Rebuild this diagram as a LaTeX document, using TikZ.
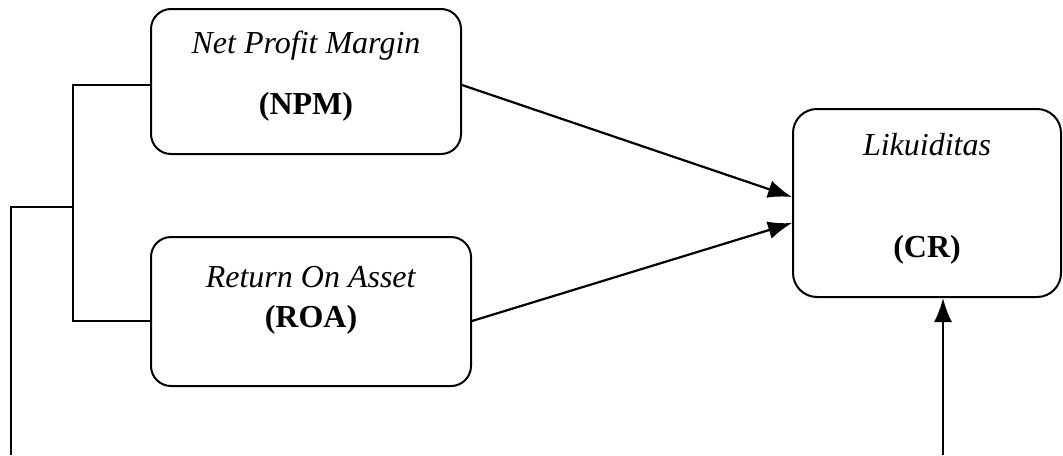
\documentclass[tikz,border=0pt]{standalone}
\usepackage{fontspec}
\setmainfont{Liberation Serif}
\usetikzlibrary{arrows.meta,calc}

\begin{document}
\begin{tikzpicture}[x=0.5pt, y=-0.5pt,
  varbox/.style={draw, line width=1pt, rounded corners=10pt, align=center, inner sep=0pt, font=\fontsize{16}{19.2}\selectfont},
  link/.style={line width=1.1pt, -{Latex[length=12pt,width=9pt]}}]
  \useasboundingbox (0,0) rectangle (1063,455);

  % Define boxes
  \node[varbox, minimum width=155pt, minimum height=72.5pt] (npm) at (306,81.5) {\textit{Net Profit Margin}\\[11.3pt]\textbf{(NPM)}\rule[-9pt]{0pt}{9pt}};
  \node[varbox, minimum width=160pt, minimum height=74.5pt] (roa) at (311,311.5) {\textit{Return On Asset}\\[0.8pt]\textbf{(ROA)}\rule[-15pt]{0pt}{15pt}};
  \node[varbox, minimum width=134pt, minimum height=94pt, rounded corners=12pt] (cr) at (927,203) {\textit{Likuiditas}\\[31.8pt]\textbf{(CR)}\rule[-7.5pt]{0pt}{7.5pt}};

  % Free ends
  \coordinate (fork) at (73,207);
  \coordinate (left) at (11,455);
  \coordinate (base) at (943,455);

  % Draw connectors
  \draw[line width=0.75pt] ($(npm.west)+(0,3.5)$) -| (fork) |- ($(roa.west)+(0,9.5)$);
  \draw[line width=0.75pt] (fork) -| (left);
  \draw[link] ($(npm.east)+(0,3.5)$) -- ($(cr.west)+(0,-6)$);
  \draw[link] ($(roa.east)+(0,9.5)$) -- ($(cr.west)+(0,20)$);
  \draw[link] (base) -- (base |- cr.south);
\end{tikzpicture}
\end{document}
